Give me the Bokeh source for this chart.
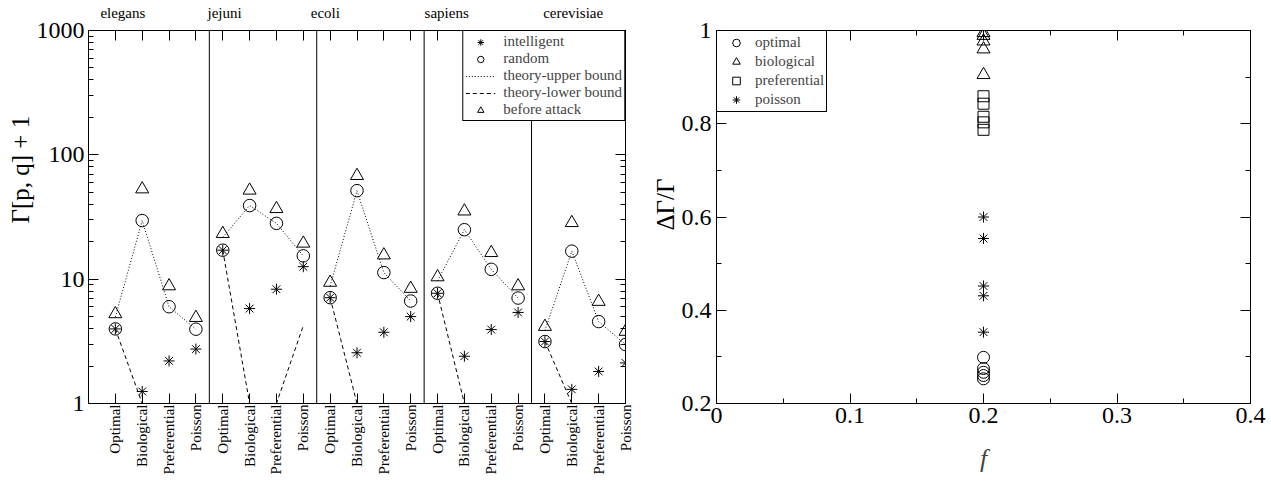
import math
from bokeh.plotting import figure
from bokeh.layouts import row
from bokeh.models import (Range1d, LinearAxis, LogAxis, FixedTicker, LogTicker, Title,
                          SingleIntervalTicker, NumeralTickFormatter, CustomJSTickFormatter,
                          Span, Legend, LegendItem, ColumnDataSource)
from bokeh.embed import file_html
from bokeh.resources import INLINE

# ---------------- data (left panel) ----------------
organisms = ["elegans", "jejuni", "ecoli", "sapiens", "cerevisiae"]
networks = ["Optimal", "Biological", "Preferential", "Poisson"]

# Gamma[p,q]+1, one row per organism, columns follow `networks`
intelligent = [
    [3.98, 1.25, 2.2, 2.74],
    [17.1, 5.8, 8.3, 12.6],
    [7.1, 2.56, 3.74, 5.0],
    [7.7, 2.4, 3.93, 5.4],
    [3.15, 1.3, 1.81, 2.12],
]
random_attack = [
    [3.98, 29.6, 6.0, 3.96],
    [17.1, 39.1, 28.1, 15.4],
    [7.1, 51.5, 11.3, 6.67],
    [7.7, 25.0, 12.0, 7.05],
    [3.15, 16.8, 4.56, 2.98],
]
before_attack = [
    [5.25, 53.0, 8.8, 4.9],
    [23.2, 51.8, 36.8, 19.4],
    [9.4, 67.9, 15.6, 8.4],
    [10.4, 35.2, 16.3, 8.8],
    [4.15, 28.4, 6.6, 3.79],
]
upper_bound = [
    [4.97, 29.6, 6.0, 3.96],
    [21.7, 39.1, 28.1, 15.4],
    [8.8, 51.5, 11.3, 6.67],
    [9.7, 25.0, 12.0, 7.05],
    [3.86, 16.8, 4.56, 2.98],
]
lower_bound = [
    [3.98, 1.0, 1.0, 1.0],
    [17.1, 1.0, 1.0, 4.23],
    [7.1, 1.0, 1.0, 1.0],
    [7.7, 1.0, 1.0, 1.0],
    [3.15, 1.0, 1.0, 1.0],
]

# ---------------- data (right panel) ----------------
f_value = [0.2, 0.2, 0.2, 0.2, 0.2]
dg_optimal = [0.299, 0.275, 0.26, 0.267, 0.253]
dg_biological = [0.995, 0.905, 0.977, 0.96, 0.989]
dg_preferential = [0.843, 0.787, 0.815, 0.803, 0.859]
dg_poisson = [0.554, 0.353, 0.452, 0.431, 0.6]

# ---------------- style ----------------
SERIF = "Liberation Serif"
top_label_x = [0.28, 4.07, 7.82, 12.34, 17.05]   # organism label positions along top axis

NG = len(organisms)
NN = len(networks)
idx = [g * NN + i for g in range(NG) for i in range(NN)]
names = [networks[i] for g in range(NG) for i in range(NN)]


def flat(a):
    return [v for r in a for v in r]


src = ColumnDataSource(dict(x=idx, intelligent=flat(intelligent),
                            random=flat(random_attack), before=flat(before_attack)))
group_xs = [[g * NN + i for i in range(NN)] for g in range(NG)]

blank = CustomJSTickFormatter(code="return ''")


def style_axis(ax, in_major=10, in_minor=5, size="24px"):
    ax.major_tick_in = in_major
    ax.major_tick_out = 0
    ax.minor_tick_in = in_minor
    ax.minor_tick_out = 0
    ax.axis_line_color = "black"
    ax.major_tick_line_color = "black"
    ax.minor_tick_line_color = "black"
    ax.major_label_text_font = SERIF
    ax.major_label_text_font_size = size
    ax.major_label_text_color = "black"


# ---------------- left figure ----------------
p1 = figure(width=648, height=482, x_range=Range1d(-1, NG * NN - 1), y_range=Range1d(1, 1000),
            y_axis_type="log", output_backend="svg", toolbar_location=None,
            min_border_left=88, min_border_right=23, min_border_top=30, min_border_bottom=77)
p1.xgrid.visible = False
p1.ygrid.visible = False
p1.outline_line_color = "black"
p1.background_fill_color = "white"

xa = p1.xaxis[0]
xa.ticker = FixedTicker(ticks=idx)
xa.major_label_overrides = {i: n for i, n in zip(idx, names)}
style_axis(xa, 10, 0, "15px")
xa.major_label_orientation = math.pi / 2
xa.major_label_standoff = 1

ya = p1.yaxis[0]
ya.ticker = LogTicker(num_minor_ticks=10)
ya.formatter = NumeralTickFormatter(format="0")
style_axis(ya, 10, 5, "24px")
ya.major_label_standoff = 4

top_fmt = CustomJSTickFormatter(args=dict(pos=top_label_x, names=organisms), code="""
    for (let i = 0; i < pos.length; i++) {
        if (Math.abs(pos[i] - tick) < 1e-6) { return names[i]; }
    }
    return '';
""")
top1 = LinearAxis(ticker=FixedTicker(ticks=top_label_x, minor_ticks=idx), formatter=top_fmt)
style_axis(top1, 0, 10, "15px")
top1.major_label_standoff = 10
p1.add_layout(top1, "above")

right1 = LogAxis(ticker=LogTicker(num_minor_ticks=10), formatter=blank)
style_axis(right1, 10, 5, "1px")
right1.major_label_standoff = 0
p1.add_layout(right1, "right")

for g in range(1, NG):
    p1.add_layout(Span(location=g * NN - 0.5, dimension="height", line_color="black", line_width=1))

r_up = p1.multi_line(xs=group_xs, ys=upper_bound, line_color="black", line_width=1, line_dash="1 2")
r_low = p1.multi_line(xs=group_xs, ys=lower_bound, line_color="black", line_width=1, line_dash="4 3")
r_int = p1.scatter("x", "intelligent", source=src, marker="asterisk", size=11,
                   line_color="black", line_width=1)
r_rand = p1.scatter("x", "random", source=src, marker="circle", size=12.5,
                    fill_color=None, line_color="black", line_width=1)
r_bef = p1.scatter("x", "before", source=src, marker="triangle", size=13,
                   fill_color=None, line_color="black", line_width=1)

leg1 = Legend(items=[
    LegendItem(label="intelligent", renderers=[r_int]),
    LegendItem(label="random", renderers=[r_rand]),
    LegendItem(label="theory-upper bound", renderers=[r_up]),
    LegendItem(label="theory-lower bound", renderers=[r_low]),
    LegendItem(label="before attack", renderers=[r_bef]),
], location="top_right")
leg1.margin = 0
leg1.padding = 2
leg1.spacing = 0
leg1.glyph_width = 30
leg1.glyph_height = 16
leg1.label_height = 16
leg1.label_standoff = 8
leg1.label_text_font = SERIF
leg1.label_text_font_size = "15px"
leg1.border_line_color = "black"
leg1.border_line_alpha = 1
leg1.background_fill_alpha = 1
p1.add_layout(leg1)

p1.add_layout(Title(text="Γ[p, q] + 1", align="left", offset=180, standoff=0,
                    vertical_align="bottom", text_font=SERIF, text_font_size="25px",
                    text_font_style="normal", text_color="black"), "left")

# ---------------- right figure ----------------
p2 = figure(width=622, height=482, x_range=Range1d(0, 0.4), y_range=Range1d(0.2, 1),
            output_backend="svg", toolbar_location=None,
            min_border_left=68, min_border_right=20, min_border_top=29, min_border_bottom=79)
p2.xgrid.visible = False
p2.ygrid.visible = False
p2.outline_line_color = "black"

xb = p2.xaxis[0]
xb.ticker = SingleIntervalTicker(interval=0.1, num_minor_ticks=2)
xb.formatter = NumeralTickFormatter(format="0.[0]")
style_axis(xb, 10, 5, "24px")
xb.major_label_standoff = 4
xb.axis_label = "f"
xb.axis_label_text_font = SERIF
xb.axis_label_text_font_style = "italic"
xb.axis_label_text_font_size = "26px"
xb.axis_label_standoff = 18

yb = p2.yaxis[0]
yb.ticker = SingleIntervalTicker(interval=0.2, num_minor_ticks=2)
yb.formatter = NumeralTickFormatter(format="0.[0]")
style_axis(yb, 10, 5, "24px")
yb.major_label_standoff = 5

top2 = LinearAxis(ticker=SingleIntervalTicker(interval=0.1, num_minor_ticks=2), formatter=blank)
style_axis(top2, 10, 5, "1px")
top2.major_label_standoff = 0
p2.add_layout(top2, "above")
right2 = LinearAxis(ticker=SingleIntervalTicker(interval=0.2, num_minor_ticks=2), formatter=blank)
style_axis(right2, 10, 5, "1px")
right2.major_label_standoff = 0
p2.add_layout(right2, "right")

s2 = ColumnDataSource(dict(f=f_value, opt=dg_optimal, bio=dg_biological,
                           pref=dg_preferential, poi=dg_poisson))
q_opt = p2.scatter("f", "opt", source=s2, marker="circle", size=12, fill_color=None,
                   line_color="black", line_width=1)
q_bio = p2.scatter("f", "bio", source=s2, marker="triangle", size=13, fill_color=None,
                   line_color="black", line_width=1)
q_pref = p2.scatter("f", "pref", source=s2, marker="square", size=11, fill_color=None,
                    line_color="black", line_width=1)
q_poi = p2.scatter("f", "poi", source=s2, marker="asterisk", size=11,
                   line_color="black", line_width=1)

leg2 = Legend(items=[
    LegendItem(label="optimal", renderers=[q_opt]),
    LegendItem(label="biological", renderers=[q_bio]),
    LegendItem(label="preferential", renderers=[q_pref]),
    LegendItem(label="poisson", renderers=[q_poi]),
], location="top_left")
leg2.margin = 0
leg2.padding = 2
leg2.spacing = 0
leg2.glyph_width = 34
leg2.glyph_height = 19
leg2.label_height = 19
leg2.label_standoff = 2
leg2.label_text_font = SERIF
leg2.label_text_font_size = "15px"
leg2.border_line_color = "black"
leg2.border_line_alpha = 1
leg2.background_fill_alpha = 1
p2.add_layout(leg2)

p2.add_layout(Title(text="ΔΓ/Γ", align="left", offset=173, standoff=0,
                    vertical_align="bottom", text_font=SERIF, text_font_size="25px",
                    text_font_style="normal", text_color="black"), "left")

layout = row(p1, p2)
open("out.html", "w").write(file_html(layout, INLINE))
